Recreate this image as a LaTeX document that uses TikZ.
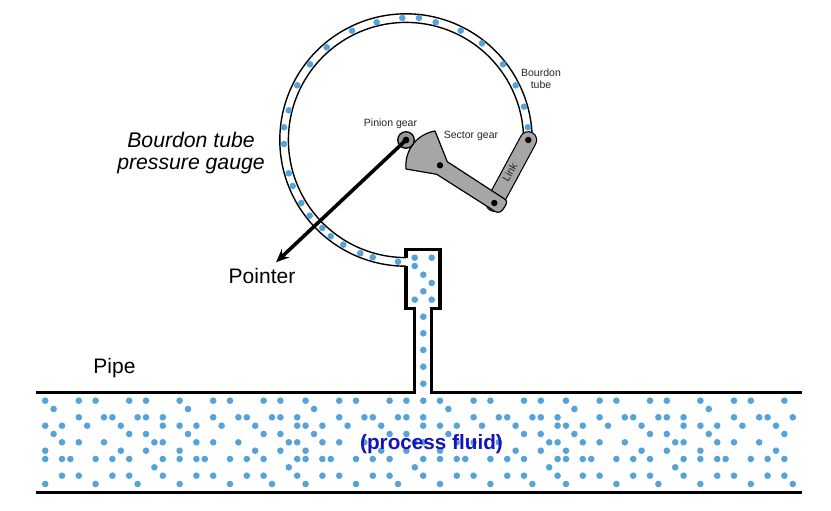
\documentclass[tikz,border=0pt]{standalone}
\usepackage{fontspec}
\setmainfont{Liberation Sans}
\usetikzlibrary{arrows.meta}
\definecolor{fluid}{HTML}{55A3D8}
\definecolor{armgray}{HTML}{A6A6A6}
\definecolor{piniongray}{HTML}{999999}
\definecolor{fluidtext}{HTML}{1414B8}
\tikzset{
  fluiddot/.style={fill=fluid},
  tubeline/.style={black,line width=1.4pt},
  wall/.style={black,line width=3.8pt,line join=miter},
  pipewall/.style={black,line width=3pt},
  neck/.style={black,line width=2.7pt},
  smalllabel/.style={font=\fontsize{10.5}{11.8}\selectfont,align=center,inner sep=0pt,text=black!85},
  biglabel/.style={font=\fontsize{21}{22}\selectfont,align=center,inner sep=0pt},
  pin/.style={fill=black}
}
\begin{document}
\begin{tikzpicture}[x=1pt,y=-1pt]
\useasboundingbox (0,0) rectangle (831,511);
\fill[white] (0,0) rectangle (831,511);

% pipe fluid dots (tile of 31 columns repeated)
\foreach \yy/\cols in {
 400.7/{0,4,6,10,12,16,20,22,26,28},
 409/{1,17},
 417.3/{4,7,8,11,12,14,20,23,24,27,28,30},
 425.7/{0,2,5,9,14,16,18,21,25,30},
 434/{1,10,12,17,26,28},
 442.3/{2,4,7,13,14,18,20,23,29,30},
 450.7/{0,9,12,16,25,28},
 459/{0,2,3,6,8,10,14,16,18,19,22,24,26,30},
 467.3/{13,29},
 475.7/{2,4,8,10,14,18,20,24,26,30},
 484/{0,6,11,16,22,27}}{
  \foreach \c in \cols {
    \foreach \t in {0,31,62} {
      \pgfmathtruncatemacro{\kk}{\c+\t}
      \ifnum\kk<90
        \fill[fluiddot] ({45.2+8.4*\kk},\yy) circle[radius=3.3pt];
      \fi
    }
  }
}

% stem and socket dots
\foreach \px/\py in {423.3/400.7,423.3/383.7,423.3/366.7,423.3/350,423.3/333.3,423.3/316.7,
  414.7/299.7,431.7/299.7,423.3/291.3,431.7/283,423.3/274.7,414.7/266,414.7/257.7,431.7/257.7}
  \fill[fluiddot] (\px,\py) circle[radius=3.3pt];

% Bourdon tube walls
\draw[tubeline] plot[domain=270:0,samples=140,smooth] ({406+126.2*cos(\x-360)},{140-126.2*sin(\x-360)});
\draw[tubeline] plot[domain=270:0,samples=140,smooth] ({406+117.6*cos(\x-360)},{140-117.6*sin(\x-360)});

% Bourdon tube dots
\foreach \px/\py in {398/261.7,372.7/257.3,360.3/253.3,343.3/244.7,330.7/236.3,322.3/228,309.7/215.7,
  301.3/203,292.7/186,288.7/173.3,284/144,284/127.3,288.7/110.3,297.3/85.3,310/64.3,326.7/47.3,
  352/30.7,376.7/22.3,402.3/18,419/18,435.7/22.3,460.7/30.7,482/43.3,503/64.3,515.7/85.3,524/106.7,528/127.3}
  \fill[fluiddot] (\px,\py) circle[radius=3.3pt];

% pipe walls, stem, socket
\draw[pipewall] (36,392) -- (415.7,392);
\draw[pipewall] (430.3,392) -- (802,392);
\draw[pipewall] (36,492.7) -- (802,492.7);
\draw[neck] (414.5,392) -- (414.5,326);
\draw[neck] (431.5,392) -- (431.5,326);
\draw[wall] (414.5,327) -- (414.5,308.5) -- (406,308.5) -- (406,265.5);
\draw[wall] (406,257.5) -- (406,249.5) -- (440,249.5) -- (440,308.5) -- (431.5,308.5) -- (431.5,327);

% link
\coordinate (linktop) at (528.3,140);
\coordinate (linkend) at (494.3,203);
\draw[black,line width=17.8pt,line cap=round] (linktop) -- (linkend);
\draw[armgray,line width=15.4pt,line cap=round] (linktop) -- (linkend);

% sector gear and arm
\draw[fill=armgray,draw=black,line width=1.2pt,line join=round]
  (447.3,161.7) -- (503.5,198.3)
  .. controls (505,199.2) and (506.2,200) .. (506.5,201.5)
  .. controls (507,204) and (504,208) .. (502,210.5)
  .. controls (499,213.5) and (495.5,212.5) .. (491.7,209.3)
  -- (436.7,174.3) -- (406,169)
  .. controls (404.2,150.5) and (416.9,134) .. (435,131)
  -- cycle;

% pins
\fill[pin] (linktop) circle[radius=3.2pt];
\fill[pin] (linkend) circle[radius=3.2pt];
\fill[pin] (440,165.3) circle[radius=3.2pt];

% pinion and pointer
\node[circle,draw=black,fill=piniongray,line width=1.3pt,minimum size=16.5pt,inner sep=0pt] (pinion) at (406,140) {};
\coordinate (pointertip) at (276,262.3);
\draw[black,line width=3.6pt,-{Stealth[length=13pt,width=11pt]}] (pinion.center) -- (pointertip);
\fill[pin] (pinion.center) circle[radius=3.4pt];

% labels
\node[smalllabel] (lblbourdon) at (541,79) {Bourdon\\tube};
\node[smalllabel] (lblpinion) at (390.5,124) {Pinion gear};
\node[smalllabel] (lblsector) at (471,136) {Sector gear};
\node[smalllabel,rotate=60] (lbllink) at (509.6,172.7) {Link};
\node[biglabel,font=\fontsize{21.2}{22.4}\selectfont\itshape] (lbltitle) at (191,153) {Bourdon tube\\pressure gauge};
\node[biglabel] (lblpointer) at (262,276) {Pointer};
\node[biglabel] (lblpipe) at (114.5,368) {Pipe};
\node[biglabel,font=\fontsize{20.7}{22}\selectfont\bfseries,text=fluidtext] (lblfluid) at (431.5,444) {(process fluid)};
\end{tikzpicture}
\end{document}
